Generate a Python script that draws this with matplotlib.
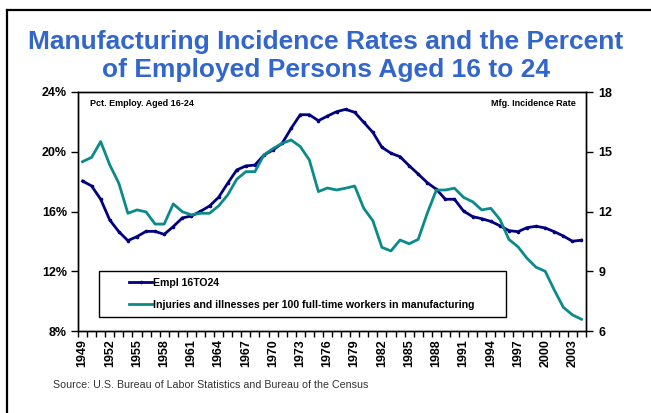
import matplotlib.pyplot as plt
from matplotlib.lines import Line2D
from matplotlib.patches import Rectangle
from matplotlib.ticker import FuncFormatter, MultipleLocator

plt.rcParams['font.family'] = ['Liberation Sans', 'DejaVu Sans']

years = list(range(1949, 2005))

# share of employed persons aged 16-24 (%)
empl_16to24 = [18.04, 17.71, 16.82, 15.43, 14.65, 14.05, 14.32, 14.67, 14.67, 14.47,
               14.99, 15.57, 15.70, 16.01, 16.37, 16.95, 17.89, 18.78, 19.05, 19.11,
               19.78, 20.12, 20.56, 21.57, 22.48, 22.48, 22.08, 22.39, 22.68, 22.84,
               22.64, 21.97, 21.30, 20.30, 19.90, 19.67, 19.07, 18.51, 17.93, 17.49,
               16.82, 16.82, 16.03, 15.66, 15.52, 15.34, 15.05, 14.72, 14.65, 14.92,
               15.01, 14.90, 14.65, 14.36, 14.01, 14.08]

# injuries and illnesses per 100 full-time manufacturing workers
mfg_incidence = [14.50, 14.72, 15.51, 14.34, 13.42, 11.91, 12.08, 11.98, 11.37, 11.37,
                 12.38, 11.99, 11.83, 11.91, 11.91, 12.28, 12.83, 13.62, 14.00, 14.00,
                 14.84, 15.16, 15.42, 15.59, 15.26, 14.59, 13.00, 13.18, 13.08, 13.17,
                 13.28, 12.16, 11.54, 10.20, 10.02, 10.57, 10.38, 10.60, 11.91, 13.08,
                 13.08, 13.17, 12.71, 12.49, 12.08, 12.16, 11.61, 10.60, 10.23, 9.65,
                 9.20, 9.00, 8.06, 7.19, 6.81, 6.59]

label_years = years[::3]

navy = '#000080'
teal = '#0a8a8a'
W, H = 651, 413

fig = plt.figure(figsize=(W / 100, H / 100), dpi=100)
ax = fig.add_axes([78 / W, 1 - 331 / H, 508 / W, 239 / H])
ax2 = ax.twinx()

l1, = ax.plot(years, empl_16to24, color=navy, lw=2, marker='o', ms=1.6,
              label='Empl 16TO24')
l2, = ax2.plot(years, mfg_incidence, color=teal, lw=2,
               label='Injuries and illnesses per 100 full-time workers in manufacturing')

ax.set_xlim(1948.5, 2004.5)
ax.set_ylim(8, 24)
ax2.set_ylim(6, 18)
ax.yaxis.set_major_locator(MultipleLocator(4))
ax.yaxis.set_major_formatter(FuncFormatter(lambda v, _: f'{v:.0f}%'))
ax2.yaxis.set_major_locator(MultipleLocator(3))

ax.set_xticks(label_years)
ax.set_xticklabels([str(y) for y in label_years], rotation=90, fontsize=9, fontweight='bold')
ax.set_xticks([y - 0.5 for y in years] + [years[-1] + 0.5], minor=True)
ax.tick_params(axis='x', which='major', length=0, pad=6)
ax.tick_params(axis='x', which='minor', length=4, width=1, direction='out')
ax.tick_params(axis='y', length=5, width=1, labelsize=9, pad=3)
ax2.tick_params(axis='y', length=5, width=1, labelsize=9, pad=4)
for lab in ax.get_yticklabels() + ax2.get_yticklabels():
    lab.set_fontweight('bold')

for a in (ax, ax2):
    for s in a.spines.values():
        s.set_linewidth(1)
        s.set_color('black')

ax.text(0.024, 0.95, 'Pct. Employ. Aged 16-24', transform=ax.transAxes,
        fontsize=6.5, fontweight='bold', va='center', ha='left')
ax.text(0.98, 0.95, 'Mfg. Incidence Rate', transform=ax.transAxes,
        fontsize=6.5, fontweight='bold', va='center', ha='right')

# legend box
fig.patches.append(Rectangle((99 / W, 1 - 317 / H), 407 / W, 46 / H,
                             transform=fig.transFigure, fill=False,
                             edgecolor='black', lw=1, zorder=5))
fig.legend(handles=[l1, l2], loc='upper left', bbox_to_anchor=(129 / W, 1 - 278 / H),
           frameon=False, prop={'weight': 'bold', 'size': 7.6},
           handlelength=2.2, handletextpad=0.1, borderpad=0, borderaxespad=0,
           labelspacing=1.1, numpoints=1, markerscale=1)

fig.text(0.5, 1 - 42 / H, 'Manufacturing Incidence Rates and the Percent',
         ha='center', va='center', fontsize=19, fontweight='bold', color='#3366cc')
fig.text(0.5, 1 - 70 / H, 'of Employed Persons Aged 16 to 24',
         ha='center', va='center', fontsize=19, fontweight='bold', color='#3366cc')

fig.text(53 / W, 1 - 385 / H,
         'Source: U.S. Bureau of Labor Statistics and Bureau of the Census',
         ha='left', va='center', fontsize=7.7, color='#333333')

# outer frame, only top and left edges fall inside the image
fig.lines.append(Line2D([7 / W, 1.0], [1 - 10 / H, 1 - 10 / H],
                        transform=fig.transFigure, color='black', lw=1.6))
fig.lines.append(Line2D([7 / W, 7 / W], [0.0, 1 - 10 / H],
                        transform=fig.transFigure, color='black', lw=1.6))

fig.savefig('out.png', dpi=100)
